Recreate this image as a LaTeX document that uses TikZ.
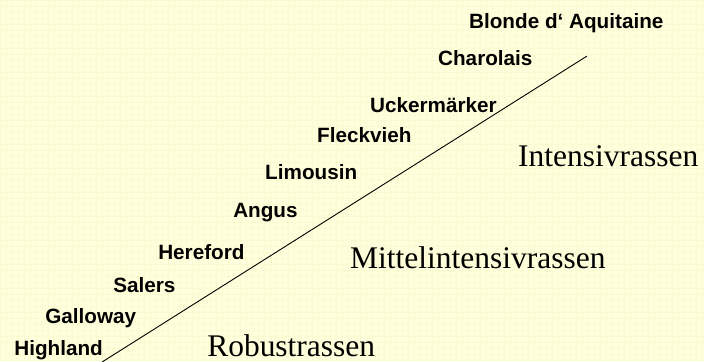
\documentclass[tikz,border=0pt]{standalone}
\usepackage{fontspec}
\setmainfont{Liberation Serif}
\setsansfont{Liberation Sans}
\definecolor{paper}{RGB}{255,255,222}
\definecolor{paperline}{RGB}{251,251,210}
\tikzset{
  breed/.style={anchor=base west, inner sep=0pt, font=\fontsize{20.7}{24}\selectfont\sffamily\bfseries},
  group/.style={anchor=base west, inner sep=0pt, text depth=0pt, font=\fontsize{31.5}{36}\selectfont}
}

\begin{document}
\begin{tikzpicture}[x=1pt, y=-1pt]
          \fill[paper] (0, 0) rectangle (704, 361);
          \draw[paperline, line width=0.3pt, step=6pt] (0, 0) grid (704, 361);
          \useasboundingbox (0, 0) rectangle (704, 361);

          \node[breed] (highland) at (14, 355) {Highland};
          \node[breed] (galloway) at (45, 323) {Galloway};
          \node[breed] (salers) at (113, 292) {Salers};
          \node[breed] (hereford) at (158, 259) {Hereford};
          \node[breed] (angus) at (233, 217) {Angus};
          \node[breed] (limousin) at (265, 179) {Limousin};
          \node[breed] (fleckvieh) at (317, 142) {Fleckvieh};
          \node[breed] (uckermaerker) at (370, 112) {Uckermärker};
          \node[breed] (charolais) at (438, 65) {Charolais};
          \node[breed] (blonde) at (469, 28) {Blonde d‘ Aquitaine};

          \node[group] (intensiv) at (518, 166) {Intensivrassen};
          \node[group] (mittel) at (350, 268) {Mittelintensivrassen};
          \node[group] (robust) at (207, 356) {Robustrassen};

          \coordinate (lo) at (102, 362);
          \coordinate (hi) at (587, 56);
          \draw[line width=0.9pt] (lo) -- (hi);
        \end{tikzpicture}
\end{document}
